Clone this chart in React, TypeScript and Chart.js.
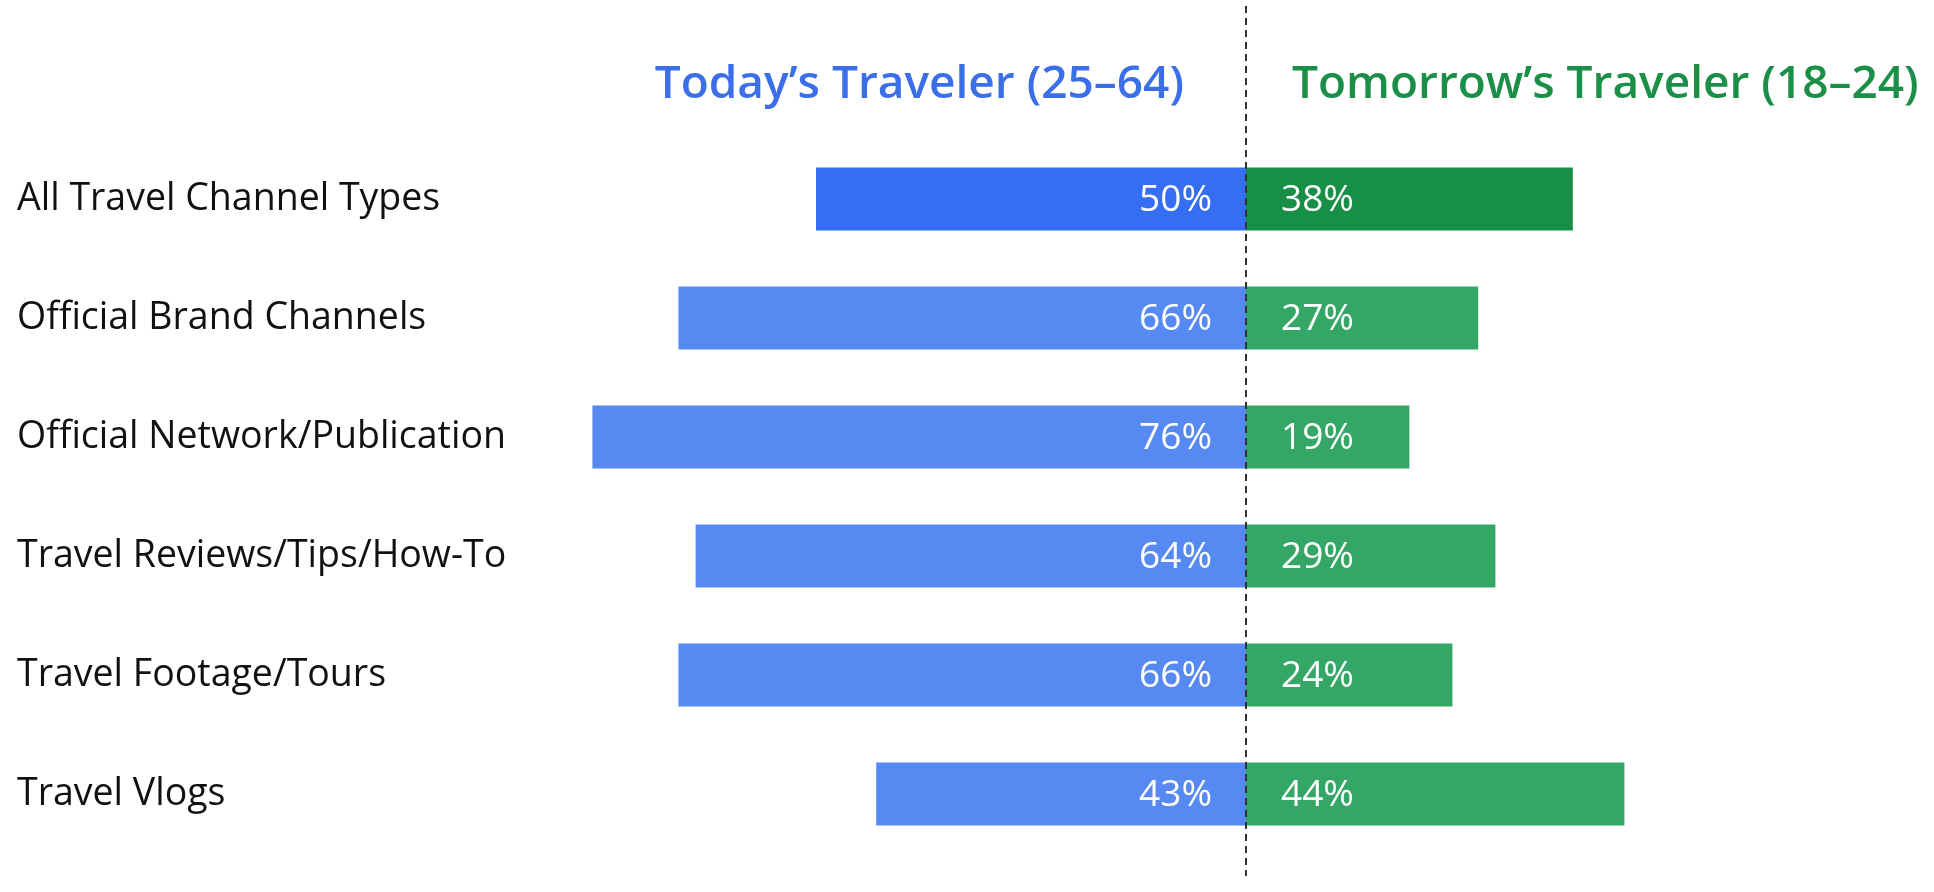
import { useEffect, useRef } from "react";
import { Chart, registerables } from "chart.js";

Chart.register(...registerables);

const categories = [
  "All Travel Channel Types",
  "Official Brand Channels",
  "Official Network/Publication",
  "Travel Reviews/Tips/How-To",
  "Travel Footage/Tours",
  "Travel Vlogs",
];
const todayValues = [50, 66, 76, 64, 66, 43];
const tomorrowValues = [38, 27, 19, 29, 24, 44];
const todayTitle = "Today’s Traveler (25–64)";
const tomorrowTitle = "Tomorrow’s Traveler (18–24)";

const FONT = "'Open Sans', 'Noto Sans', sans-serif";

const overlayPlugin = {
  id: "overlay",
  afterDatasetsDraw(chart: any) {
    const { ctx } = chart;
    const x = chart.scales.x;
    const y = chart.scales.y;
    const zero = x.getPixelForValue(0);
    ctx.save();

    // value labels inside the bars
    ctx.font = `500 37px ${FONT}`;
    ctx.fillStyle = "#ffffff";
    ctx.textBaseline = "middle";
    categories.forEach((_, i) => {
      const cy = y.getPixelForValue(i) + 1;
      ctx.textAlign = "right";
      ctx.fillText(`${todayValues[i]}%`, zero - 34, cy);
      ctx.textAlign = "left";
      ctx.fillText(`${tomorrowValues[i]}%`, zero + 35, cy);
    });

    // dashed centre line
    ctx.strokeStyle = "#333333";
    ctx.lineWidth = 2;
    ctx.setLineDash([7, 5]);
    ctx.beginPath();
    ctx.moveTo(zero, 6);
    ctx.lineTo(zero, 876);
    ctx.stroke();
    ctx.setLineDash([]);

    // column titles
    ctx.font = `600 46px ${FONT}`;
    ctx.textBaseline = "alphabetic";
    ctx.textAlign = "right";
    ctx.fillStyle = "#3b6fe9";
    ctx.fillText(todayTitle, zero - 62, 98);
    ctx.textAlign = "left";
    ctx.fillStyle = "#1a8f47";
    ctx.fillText(tomorrowTitle, zero + 46, 98);

    ctx.restore();
  },
};

export default function App() {
  const canvasRef = useRef<HTMLCanvasElement>(null);
  const chartInstance = useRef<Chart | null>(null);

  useEffect(() => {
    if (!canvasRef.current) {
      return;
    }
    const ctx = canvasRef.current.getContext("2d");
    if (!ctx) {
      return;
    }

    chartInstance.current = new Chart(ctx, {
      type: "bar",
      data: {
        labels: categories,
        datasets: [
          {
            label: todayTitle,
            data: todayValues.map((v) => -v),
            backgroundColor: (c: any) =>
              c.dataIndex === 0 ? "#356df3" : "#568af2",
            categoryPercentage: 1,
            barPercentage: 0.53,
          },
          {
            label: tomorrowTitle,
            data: tomorrowValues,
            backgroundColor: (c: any) =>
              c.dataIndex === 0 ? "#188f46" : "#34a665",
            categoryPercentage: 1,
            barPercentage: 0.53,
          },
        ],
      },
      options: {
        indexAxis: "y",
        animation: false,
        responsive: true,
        maintainAspectRatio: false,
        layout: {
          padding: { top: 139.5, bottom: 38.5, left: 17, right: 43 },
        },
        plugins: {
          legend: { display: false },
          tooltip: { enabled: false },
          title: { display: false },
        },
        scales: {
          x: {
            display: false,
            stacked: true,
            min: -80,
            max: 75,
          },
          y: {
            stacked: true,
            grid: { display: false },
            border: { display: false },
            ticks: {
              crossAlign: "far",
              color: "#111111",
              font: { family: FONT, size: 37.5 },
            },
            afterFit: (scale: any) => {
              scale.width = 541;
            },
          },
        },
      },
      plugins: [overlayPlugin],
    });

    return () => {
      if (chartInstance.current) {
        chartInstance.current.destroy();
        chartInstance.current = null;
      }
    };
  }, []);

  return (
    <div
      style={{
        position: "absolute",
        left: 0,
        top: 0,
        width: 1934,
        height: 892,
        background: "#ffffff",
      }}
    >
      <canvas ref={canvasRef} />
    </div>
  );
}
